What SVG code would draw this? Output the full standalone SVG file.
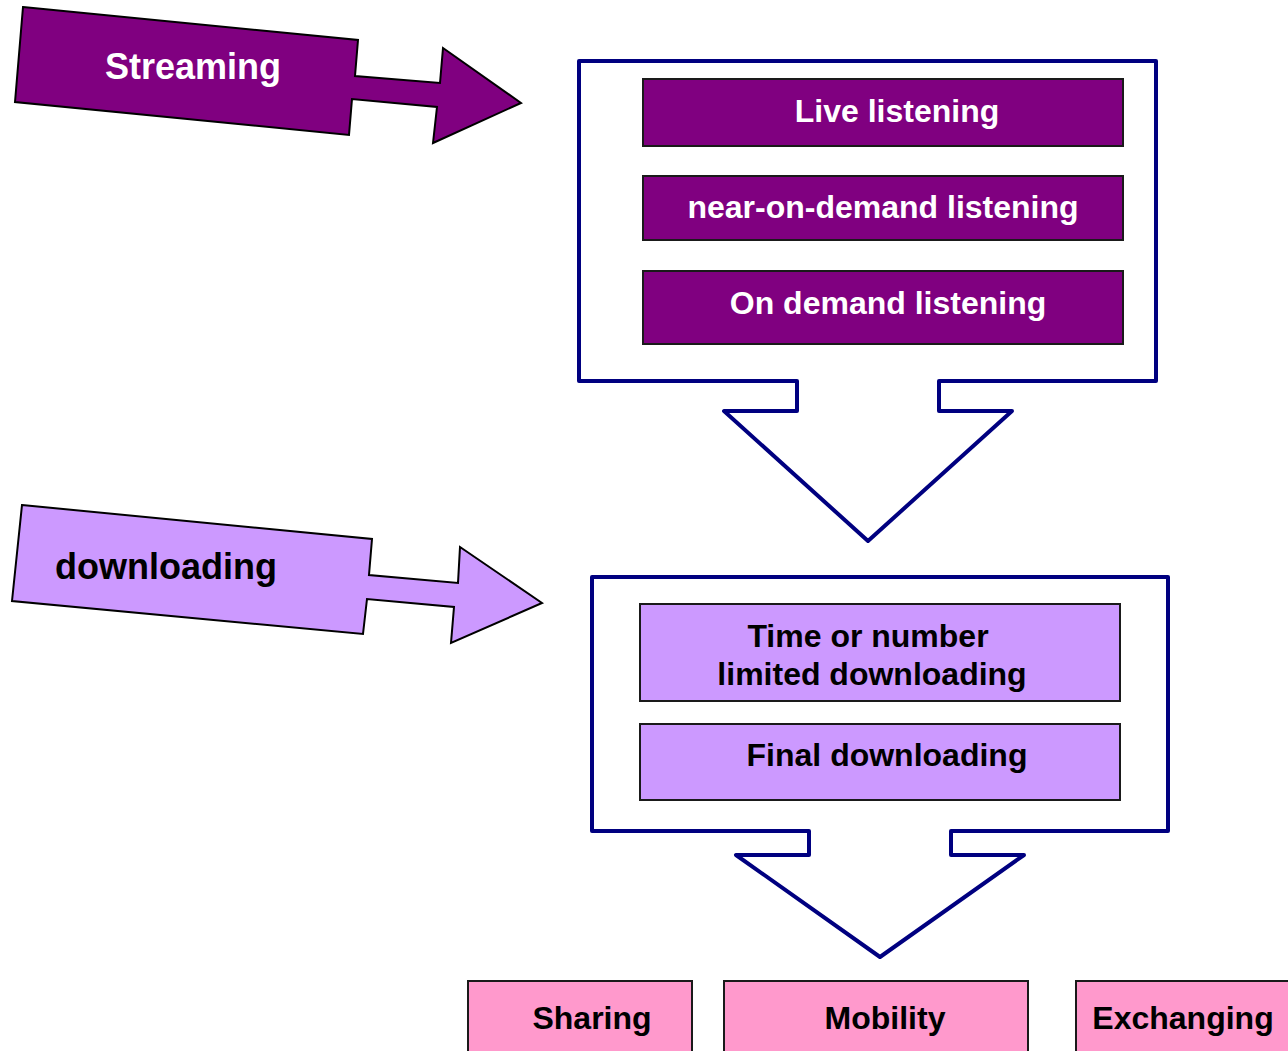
<svg xmlns="http://www.w3.org/2000/svg" width="1288" height="1051" viewBox="0 0 1288 1051">
<style>
text{font-family:"Liberation Sans",Arial,sans-serif;font-weight:bold;text-anchor:middle}
.big{font-size:36px}
.t{font-size:32px}
.w{fill:#ffffff}
.k{fill:#000000}
.purple{fill:#800080;stroke:#1a1a1a;stroke-width:2}
.lilac{fill:#CC99FF;stroke:#1a1a1a;stroke-width:2}
.pink{fill:#FF99CC;stroke:#1a1a1a;stroke-width:2}
.frame{fill:#ffffff;stroke:#000080;stroke-width:4;stroke-linejoin:round}
.arr{stroke:#000000;stroke-width:2;stroke-linejoin:miter}
</style>
<rect width="1288" height="1051" fill="#ffffff"/>
<g id="connectors">
<path class="frame" d="M579,61 L1156,61 L1156,381 L939,381 L939,411 L1012,411 L868,541 L724,411 L797,411 L797,381 L579,381 Z"/>
<path class="frame" d="M592,577 L1168,577 L1168,831 L951,831 L951,855 L1024,855 L880,957 L736,855 L809,855 L809,831 L592,831 Z"/>
</g>
<g id="streaming">
<polygon class="arr" fill="#800080" points="23,7 358,40 355,76 440,83 443,48 521,103 433,143 437,107 352,99 349,135 15,102"/>
<text class="big w" x="193" y="79">Streaming</text>
</g>
<g id="downloading">
<polygon class="arr" fill="#CC99FF" points="22,505 372,539 369,575 458,583 460,547 542,603 451,643 454,607 367,599 363,634 12,601"/>
<text class="big k" x="166" y="579">downloading</text>
</g>
<g id="live">
<rect class="purple" x="643" y="79" width="480" height="67"/>
<text class="t w" x="897" y="122">Live listening</text>
</g>
<g id="near">
<rect class="purple" x="643" y="176" width="480" height="64"/>
<text class="t w" x="883" y="218">near-on-demand listening</text>
</g>
<g id="ondemand">
<rect class="purple" x="643" y="271" width="480" height="73"/>
<text class="t w" x="888" y="314">On demand listening</text>
</g>
<g id="limited">
<rect class="lilac" x="640" y="604" width="480" height="97"/>
<text class="t k" x="868" y="647">Time or number</text>
<text class="t k" x="872" y="685">limited downloading</text>
</g>
<g id="final">
<rect class="lilac" x="640" y="724" width="480" height="76"/>
<text class="t k" x="887" y="766">Final downloading</text>
</g>
<g id="sharing">
<rect class="pink" x="468" y="981" width="224" height="80"/>
<text class="t k" x="592" y="1029">Sharing</text>
</g>
<g id="mobility">
<rect class="pink" x="724" y="981" width="304" height="80"/>
<text class="t k" x="885" y="1029">Mobility</text>
</g>
<g id="exchanging">
<rect class="pink" x="1076" y="981" width="230" height="80"/>
<text class="t k" x="1183" y="1029">Exchanging</text>
</g>
</svg>
